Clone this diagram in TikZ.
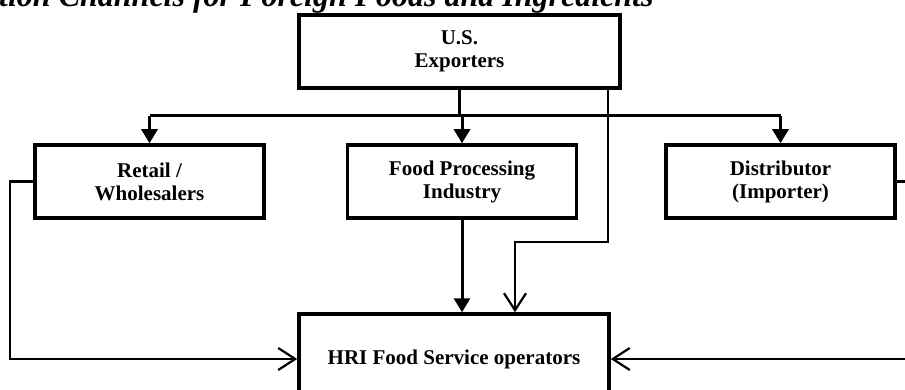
\documentclass[tikz,border=0pt]{standalone}
\usepackage{fontspec}
\setmainfont{Liberation Serif}
\usetikzlibrary{positioning, arrows.meta}
\tikzset{
x=1pt, y=-1pt, % one unit is one pixel, y runs downward
box/.style={draw, line width=3.5pt, minimum width=229pt, minimum height=73pt, inner sep=0pt, align=center, font=\fontsize{21}{23}\selectfont\bfseries}, % sets the properties for each box
main/.style={line width=3pt, -{Triangle[length=14pt, width=16pt]}}, % thick lines with filled heads
side/.style={line width=2.2pt, -{Straight Barb[length=17pt, width=22pt]}}, % thin lines with open heads
}
\begin{document}
\begin{tikzpicture}
            \path[use as bounding box, fill=white] (0,0) rectangle (905,390);
            \node[anchor=base west, inner sep=0pt, font=\fontsize{32}{36}\selectfont\bfseries\itshape] (title) at (-1,7) {tion Channels for Foreign Foods and Ingredients};
            \node[box, minimum width=321pt] (exporters) at (459.5,51.5) {U.S.\\Exporters};
            \node[box] (retail) at (149.5,181.5) {Retail /\\Wholesalers};
            \node[box, right=80pt of retail] (processing) {Food Processing\\Industry};
            \node[box, right=86pt of processing] (distributor) {Distributor\\(Importer)};
            \node[box, minimum width=310pt, minimum height=90pt] (hri) at (454,359) {HRI Food Service operators};
            \coordinate (bus) at (0,116);
            \coordinate (direct) at (608,242);
            \coordinate (drop) at (515,242);
            \coordinate (leftrail) at (10,0);
            \coordinate (rightrail) at (915,0);
            \draw[line width=3pt]
                (retail |- bus) -- (distributor |- bus)
                (exporters.south) -- (exporters.south |- bus)
                ;
            \draw[main] (retail |- bus) -- (retail.north);
            \draw[main] (processing |- bus) -- (processing.north);
            \draw[main] (distributor |- bus) -- (distributor.north);
            \draw[main] (processing.south) -- (processing.south |- hri.north);
            \draw[side] (direct |- exporters.south) -- (direct) -- (drop) -- (drop |- hri.north);
            \draw[side] (retail.west) -| (leftrail |- hri.west) -- (hri.west);
            \draw[side] (distributor.east) -| (rightrail |- hri.east) -- (hri.east);
            \end{tikzpicture}
\end{document}
